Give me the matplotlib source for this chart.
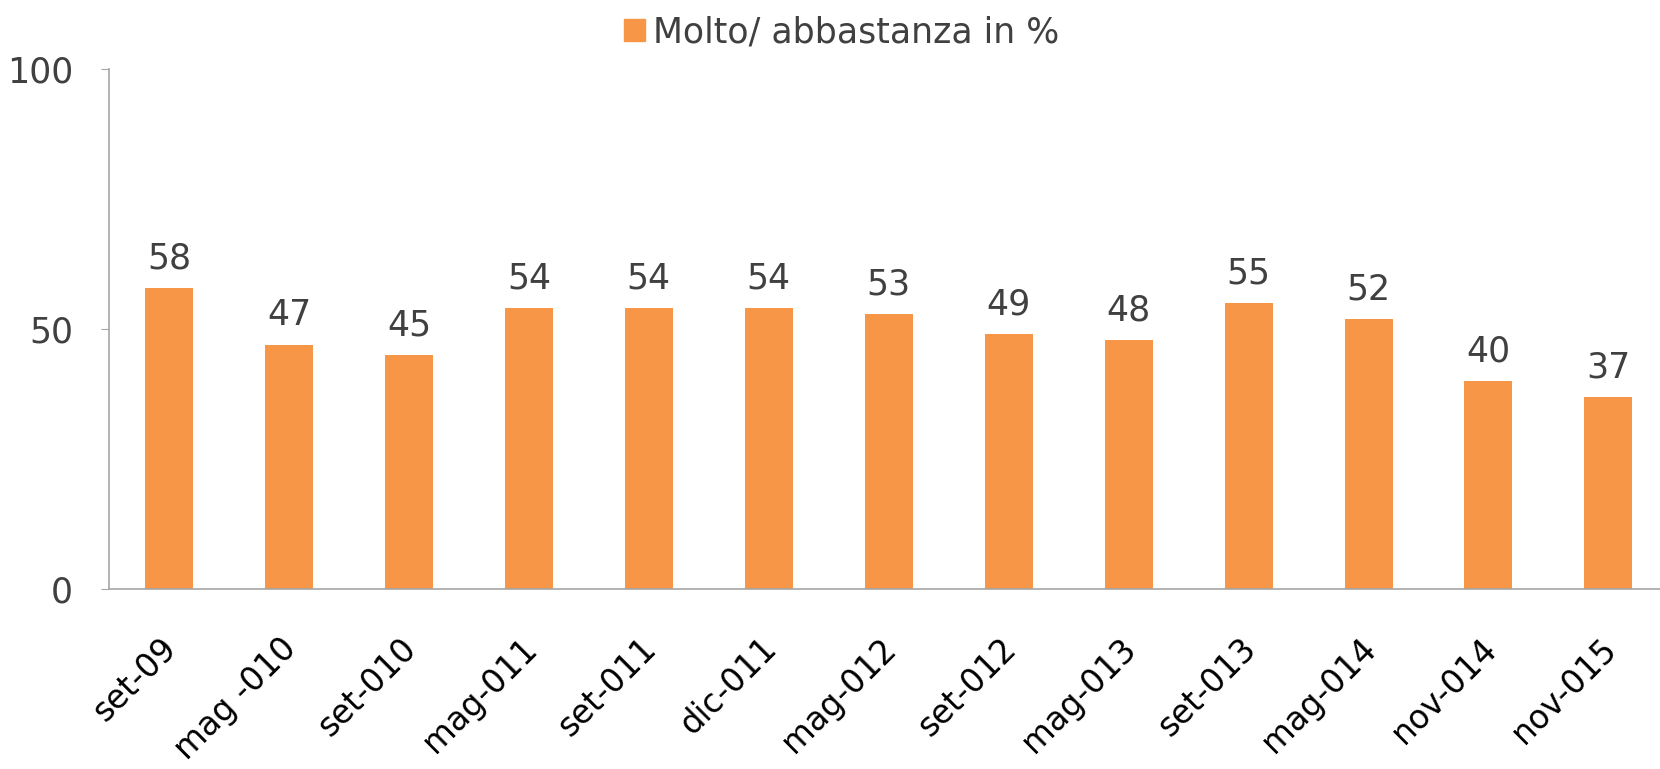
import matplotlib.pyplot as plt
import matplotlib.transforms as mtransforms
from matplotlib.patches import Patch

periods = ['set-09', 'mag -010', 'set-010', 'mag-011', 'set-011', 'dic-011', 'mag-012',
           'set-012', 'mag-013', 'set-013', 'mag-014', 'nov-014', 'nov-015']
molto = [58, 47, 45, 54, 54, 54, 53, 49, 48, 55, 52, 40, 37]
series_name = 'Molto/ abbastanza in %'

orange = '#F79646'
grey = '#A6A6A6'
txt = '#404040'

plt.rcParams['font.family'] = ['DejaVu Sans']

fig = plt.figure(figsize=(16.6, 7.69), dpi=100)
ax = fig.add_axes([0.0657, 0.234, 0.9343, 0.676])

x = range(len(periods))
bars = ax.bar(x, molto, width=0.4, color=orange)

for b, v in zip(bars, molto):
    ax.annotate(str(v), (b.get_x() + b.get_width() / 2, v), xytext=(0, 9),
                textcoords='offset points', ha='center', va='bottom',
                fontsize=25, color=txt)

ax.set_xlim(-0.5, 12.43)
ax.set_ylim(0, 100)
ax.set_yticks([0, 50, 100])
ax.tick_params(axis='y', labelsize=25, labelcolor=txt, color=grey, length=6, pad=20)
ax.tick_params(axis='x', length=0, pad=31)
ax.set_xticks(list(x))
ax.set_xticklabels(periods, rotation=45, ha='right', va='top', rotation_mode='anchor',
                   fontsize=23.5, color='black')
# excel puts the top-right corner of each label roughly under the bar centre
shift = mtransforms.ScaledTranslation(-9 / 100, 0, fig.dpi_scale_trans)
for lbl in ax.get_xticklabels():
    lbl.set_transform(lbl.get_transform() + shift)

for s in ['top', 'right']:
    ax.spines[s].set_visible(False)
ax.spines['left'].set_color(grey)
ax.spines['bottom'].set_color(grey)
ax.spines['left'].set_linewidth(1.2)
ax.spines['bottom'].set_linewidth(1.2)

fig.legend(handles=[Patch(color=orange, label=series_name)], loc='center',
           bbox_to_anchor=(0.507, 0.958), frameon=False, fontsize=25,
           handlelength=0.6, handleheight=0.6, handletextpad=0.25, labelcolor=txt)

fig.savefig('out.png')
